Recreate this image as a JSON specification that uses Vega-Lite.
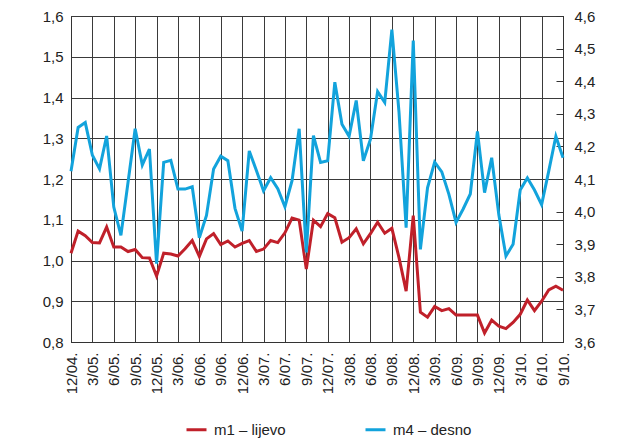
{
  "$schema": "https://vega.github.io/schema/vega-lite/v6.json",
  "autosize": {"type": "none"},
  "width": 492,
  "height": 326,
  "padding": {"left": 71, "top": 16, "right": 70, "bottom": 96},
  "background": "white",
  "config": {
    "view": {"stroke": "#333333", "strokeWidth": 1},
    "font": "Liberation Sans",
    "axis": {"labelFont": "Liberation Sans", "labelFontSize": 15, "labelColor": "#222222", "domainColor": "#333333", "gridColor": "#3a3a3a", "gridOpacity": 1, "gridWidth": 1, "tickColor": "#333333"},
    "legend": {"labelFont": "Liberation Sans", "labelFontSize": 15, "labelColor": "#222222"}
  },
  "data": {"values": [
    {"m": "12/04.", "m1": 1.018, "m4": 4.124},
    {"m": "1/05.", "m1": 1.072, "m4": 4.258},
    {"m": "2/05.", "m1": 1.061, "m4": 4.273},
    {"m": "3/05.", "m1": 1.044, "m4": 4.173},
    {"m": "4/05.", "m1": 1.043, "m4": 4.131},
    {"m": "5/05.", "m1": 1.082, "m4": 4.232},
    {"m": "6/05.", "m1": 1.033, "m4": 4.014},
    {"m": "7/05.", "m1": 1.033, "m4": 3.927},
    {"m": "8/05.", "m1": 1.022, "m4": 4.09},
    {"m": "9/05.", "m1": 1.027, "m4": 4.254},
    {"m": "10/05.", "m1": 1.007, "m4": 4.143},
    {"m": "11/05.", "m1": 1.006, "m4": 4.192},
    {"m": "12/05.", "m1": 0.962, "m4": 3.84},
    {"m": "1/06.", "m1": 1.018, "m4": 4.151},
    {"m": "2/06.", "m1": 1.016, "m4": 4.157},
    {"m": "3/06.", "m1": 1.011, "m4": 4.069},
    {"m": "4/06.", "m1": 1.029, "m4": 4.069},
    {"m": "5/06.", "m1": 1.049, "m4": 4.076},
    {"m": "6/06.", "m1": 1.010, "m4": 3.92},
    {"m": "7/06.", "m1": 1.053, "m4": 3.988},
    {"m": "8/06.", "m1": 1.066, "m4": 4.131},
    {"m": "9/06.", "m1": 1.039, "m4": 4.170},
    {"m": "10/06.", "m1": 1.048, "m4": 4.156},
    {"m": "11/06.", "m1": 1.033, "m4": 4.01},
    {"m": "12/06.", "m1": 1.042, "m4": 3.94},
    {"m": "1/07.", "m1": 1.049, "m4": 4.186},
    {"m": "2/07.", "m1": 1.022, "m4": 4.126},
    {"m": "3/07.", "m1": 1.028, "m4": 4.064},
    {"m": "4/07.", "m1": 1.049, "m4": 4.104},
    {"m": "5/07.", "m1": 1.044, "m4": 4.07},
    {"m": "6/07.", "m1": 1.068, "m4": 4.015},
    {"m": "7/07.", "m1": 1.104, "m4": 4.095},
    {"m": "8/07.", "m1": 1.099, "m4": 4.254},
    {"m": "9/07.", "m1": 0.979, "m4": 3.875},
    {"m": "10/07.", "m1": 1.099, "m4": 4.233},
    {"m": "11/07.", "m1": 1.083, "m4": 4.151},
    {"m": "12/07.", "m1": 1.115, "m4": 4.156},
    {"m": "1/08.", "m1": 1.105, "m4": 4.397},
    {"m": "2/08.", "m1": 1.045, "m4": 4.268},
    {"m": "3/08.", "m1": 1.056, "m4": 4.231},
    {"m": "4/08.", "m1": 1.078, "m4": 4.341},
    {"m": "5/08.", "m1": 1.041, "m4": 4.156},
    {"m": "6/08.", "m1": 1.066, "m4": 4.222},
    {"m": "7/08.", "m1": 1.094, "m4": 4.368},
    {"m": "8/08.", "m1": 1.067, "m4": 4.335},
    {"m": "9/08.", "m1": 1.079, "m4": 4.558},
    {"m": "10/08.", "m1": 1.007, "m4": 4.305},
    {"m": "11/08.", "m1": 0.925, "m4": 3.951},
    {"m": "12/08.", "m1": 1.110, "m4": 4.525},
    {"m": "1/09.", "m1": 0.873, "m4": 3.884},
    {"m": "2/09.", "m1": 0.861, "m4": 4.073},
    {"m": "3/09.", "m1": 0.887, "m4": 4.152},
    {"m": "4/09.", "m1": 0.877, "m4": 4.122},
    {"m": "5/09.", "m1": 0.882, "m4": 4.053},
    {"m": "6/09.", "m1": 0.866, "m4": 3.967},
    {"m": "7/09.", "m1": 0.866, "m4": 4.008},
    {"m": "8/09.", "m1": 0.866, "m4": 4.054},
    {"m": "9/09.", "m1": 0.866, "m4": 4.246},
    {"m": "10/09.", "m1": 0.822, "m4": 4.058},
    {"m": "11/09.", "m1": 0.854, "m4": 4.165},
    {"m": "12/09.", "m1": 0.839, "m4": 3.99},
    {"m": "1/10.", "m1": 0.833, "m4": 3.864},
    {"m": "2/10.", "m1": 0.848, "m4": 3.90},
    {"m": "3/10.", "m1": 0.868, "m4": 4.066},
    {"m": "4/10.", "m1": 0.903, "m4": 4.103},
    {"m": "5/10.", "m1": 0.877, "m4": 4.066},
    {"m": "6/10.", "m1": 0.900, "m4": 4.021},
    {"m": "7/10.", "m1": 0.928, "m4": 4.124},
    {"m": "8/10.", "m1": 0.937, "m4": 4.231},
    {"m": "9/10.", "m1": 0.927, "m4": 4.165}
  ]},
  "encoding": {
    "x": {
      "field": "m", "type": "ordinal", "sort": null,
      "scale": {"type": "point", "padding": 0},
      "axis": {
        "title": null,
        "values": ["12/04.", "3/05.", "6/05.", "9/05.", "12/05.", "3/06.", "6/06.", "9/06.", "12/06.", "3/07.", "6/07.", "9/07.", "12/07.", "3/08.", "6/08.", "9/08.", "12/08.", "3/09.", "6/09.", "9/09.", "12/09.", "3/10.", "6/10.", "9/10."],
        "labelAngle": -90, "labelAlign": "right", "labelBaseline": "middle",
        "labelPadding": 10, "ticks": false, "grid": true, "domain": true
      }
    }
  },
  "layer": [
    {
      "mark": {"type": "line", "strokeWidth": 3, "strokeJoin": "miter", "color": "#c0202a"},
      "encoding": {
        "y": {
          "field": "m1", "type": "quantitative",
          "scale": {"domain": [0.8, 1.6], "nice": false, "zero": false},
          "axis": {"title": null, "orient": "left", "values": [0.8, 0.9, 1.0, 1.1, 1.2, 1.3, 1.4, 1.5, 1.6], "labelExpr": "replace(format(datum.value, '.1f'), '.', ',')", "ticks": false, "labelPadding": 8, "grid": true, "domain": true}
        },
        "color": {
          "datum": "m1 – lijevo",
          "scale": {"domain": ["m1 – lijevo", "m4 – desno"], "range": ["#c0202a", "#12a3dc"]},
          "legend": {"title": null, "orient": "none", "direction": "horizontal", "legendX": 114, "legendY": 402, "symbolType": "stroke", "symbolSize": 400, "symbolStrokeWidth": 3, "labelOffset": 6, "columnPadding": 73}
        }
      }
    },
    {
      "mark": {"type": "line", "strokeWidth": 3, "strokeJoin": "miter", "color": "#12a3dc"},
      "encoding": {
        "y": {
          "field": "m4", "type": "quantitative",
          "scale": {"domain": [3.6, 4.6], "nice": false, "zero": false},
          "axis": {"title": null, "orient": "right", "values": [3.6, 3.7, 3.8, 3.9, 4.0, 4.1, 4.2, 4.3, 4.4, 4.5, 4.6], "labelExpr": "replace(format(datum.value, '.1f'), '.', ',')", "ticks": true, "tickSize": -7, "tickWidth": 1, "labelPadding": 18, "grid": false, "domain": true}
        },
        "color": {"datum": "m4 – desno"}
      }
    }
  ],
  "resolve": {"scale": {"y": "independent"}}
}
